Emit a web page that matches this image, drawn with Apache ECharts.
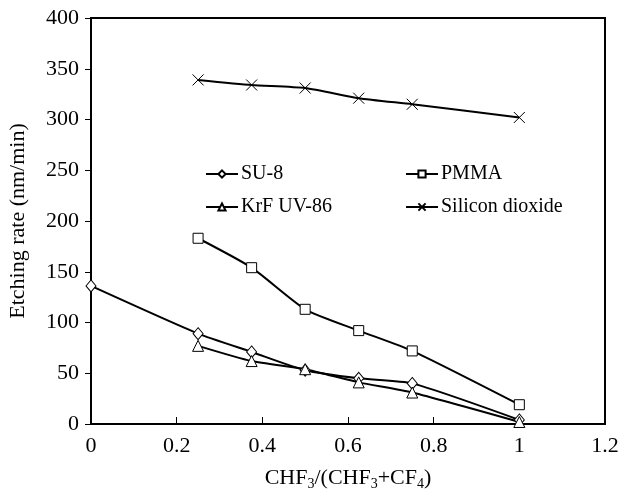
<!DOCTYPE html>
<html>
<head>
<meta charset="utf-8">
<script src="https://cdn.jsdelivr.net/npm/echarts@6/dist/echarts.min.js"></script>
<style>
  html, body { margin: 0; padding: 0; background: #fff; }
  #chart { width: 621px; height: 490px; }
</style>
</head>
<body>
<div id="chart"></div>
<script>
'use strict';

// data
const ratioAll = [0, 0.25, 0.375, 0.5, 0.625, 0.75, 1];
const ratioPart = [0.25, 0.375, 0.5, 0.625, 0.75, 1];
const su8 = [136, 89, 71, 53, 45, 40, 4];
const krf = [77, 62, 54, 41, 31, 2];
const pmma = [183, 154, 113, 92, 72, 19];
const sio2 = [339, 334, 331, 321, 315, 302];

const chart = echarts.init(document.getElementById('chart'));
const FONT = 'Liberation Serif';

const pair = (xs, ys) => xs.map((x, i) => [x, ys[i]]);

const mkSeries = (name, xs, ys, symbol, size) => ({
    name: name,
    type: 'line',
    smooth: 0.2,
    data: pair(xs, ys),
    symbol: symbol,
    symbolSize: size,
    showSymbol: true,
    lineStyle: { color: '#000', width: 2 },
    itemStyle: { color: '#fff', borderColor: '#000', borderWidth: 1 },
    z: 3
});

const crossPath = 'path://M0,0L10,10M10,0L0,10';

const legendText = { fontFamily: FONT, fontSize: 20, color: '#000', padding: [0, 0, 0, -2] };

const option = {
    animation: false,
    backgroundColor: '#fff',
    grid: {
        left: 91, right: 16, top: 18, bottom: 66,
        outerBoundsMode: 'none',
        containLabel: false,
        show: true,
        borderColor: '#000',
        borderWidth: 2,
        backgroundColor: 'transparent'
    },
    legend: [{
        data: ['SU-8', 'KrF UV-86'],
        orient: 'vertical',
        left: 200, top: 159,
        itemWidth: 32, itemHeight: 9, itemGap: 13,
        textStyle: legendText
    }, {
        data: ['PMMA', 'Silicon dioxide'],
        orient: 'vertical',
        left: 400, top: 159,
        itemWidth: 32, itemHeight: 9, itemGap: 13,
        textStyle: legendText
    }],
    xAxis: {
        type: 'value',
        min: 0, max: 1.2, interval: 0.2,
        name: '{n|CHF}{s|3}{n|/(CHF}{s|3}{n|+CF}{s|4}{n|)}',
        nameLocation: 'middle',
        nameGap: 41,
        nameTextStyle: {
            rich: {
                n: { fontFamily: FONT, fontSize: 22, color: '#000' },
                s: { fontFamily: FONT, fontSize: 14, color: '#000', padding: [12, 0, 0, 0] }
            }
        },
        axisLine: { lineStyle: { color: '#000', width: 2 } },
        axisTick: { inside: true, length: 7, lineStyle: { color: '#000', width: 1 } },
        axisLabel: { fontFamily: FONT, fontSize: 22, color: '#000', margin: 11 },
        splitLine: { show: false }
    },
    yAxis: {
        type: 'value',
        min: 0, max: 400, interval: 50,
        name: 'Etching rate (nm/min)',
        nameLocation: 'middle',
        nameGap: 62,
        nameTextStyle: { fontFamily: FONT, fontSize: 22, color: '#000' },
        axisLine: { lineStyle: { color: '#000', width: 2 } },
        axisTick: { inside: false, length: 6, lineStyle: { color: '#000', width: 1 } },
        axisLabel: { fontFamily: FONT, fontSize: 22, color: '#000', margin: 12 },
        splitLine: { show: false }
    },
    series: [
        mkSeries('SU-8', ratioAll, su8, 'diamond', [10, 12]),
        mkSeries('PMMA', ratioPart, pmma, 'rect', 10),
        mkSeries('KrF UV-86', ratioPart, krf, 'triangle', 11),
        mkSeries('Silicon dioxide', ratioPart, sio2, crossPath, 11)
    ]
};

chart.setOption(option);
</script>
</body>
</html>
